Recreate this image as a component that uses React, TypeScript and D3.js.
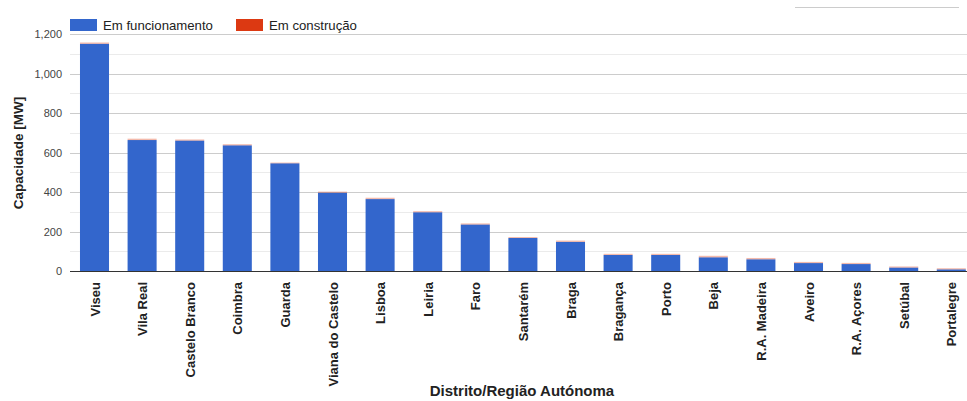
import React, { useEffect } from "react";
import * as d3 from "d3";

const categories = [
  "Viseu", "Vila Real", "Castelo Branco", "Coimbra", "Guarda", "Viana do Castelo",
  "Lisboa", "Leiria", "Faro", "Santarém", "Braga", "Bragança", "Porto", "Beja",
  "R.A. Madeira", "Aveiro", "R.A. Açores", "Setúbal", "Portalegre",
];
const emFuncionamento = [1150, 663, 660, 636, 545, 396, 364, 297, 235, 167, 147, 81, 81, 69, 59, 40, 35, 17, 8];
const emConstrucao = [7, 7, 6, 6, 4, 6, 7, 6, 6, 5, 7, 6, 6, 8, 7, 6, 6, 6, 6];
const yTicks = [0, 200, 400, 600, 800, 1000, 1200];
const yMinorTicks = [100, 300, 500, 700, 900, 1100];
const seriesNames = ["Em funcionamento", "Em construção"];
const colors = ["#3366cc", "#dc3912"];

const W = 967;
const H = 401;
const FONT = "'Liberation Sans', Arial, sans-serif";

export default function App() {
  useEffect(() => {
    document.body.style.margin = "0";
  }, []);

  const x = d3.scaleBand<string>().domain(categories).range([70.7, 975.1]).paddingInner(0.39).paddingOuter(0.195);
  const y = d3.scaleLinear().domain([0, 1200]).range([271, 34]);
  const fmt = d3.format(",");

  return (
    <svg width={W} height={H} style={{ display: "block", fontFamily: FONT }}>
      <rect x={0} y={0} width={W} height={H} fill="#fff" />
      <line x1={795} x2={959} y1={7.5} y2={7.5} stroke="#cccccc" strokeWidth={1} />
      {seriesNames.map((n, i) => {
        const lx = i === 0 ? 70 : 236;
        return (
          <g key={n}>
            <rect x={lx} y={19} width={27} height={12} fill={colors[i]} />
            <text x={lx + 33} y={29.5} fontSize={13.2} fill="#222">{n}</text>
          </g>
        );
      })}
      {yMinorTicks.map((t) => (
        <line key={"m" + t} x1={70} x2={W} y1={Math.round(y(t)) + 0.5} y2={Math.round(y(t)) + 0.5} stroke="#ebebeb" />
      ))}
      {yTicks.filter((t) => t > 0).map((t) => (
        <line key={"g" + t} x1={70} x2={W} y1={Math.round(y(t)) + 0.5} y2={Math.round(y(t)) + 0.5} stroke="#cccccc" />
      ))}
      {yTicks.map((t) => (
        <text key={"t" + t} x={62} y={y(t) + 4} fontSize={11} fill="#444" textAnchor="end">{fmt(t)}</text>
      ))}
      {categories.map((c, i) => {
        const bx = x(c)!;
        const bw = x.bandwidth();
        const f = emFuncionamento[i];
        const k = emConstrucao[i];
        return (
          <g key={c}>
            <rect x={bx} y={y(f)} width={bw} height={y(0) - y(f)} fill={colors[0]} />
            <rect x={bx} y={y(f + k)} width={bw} height={y(f) - y(f + k)} fill={colors[1]} opacity={0.35} />
          </g>
        );
      })}
      <line x1={70} x2={W} y1={271.5} y2={271.5} stroke="#333" strokeWidth={1} />
      {categories.map((c) => {
        const cx = x(c)! + x.bandwidth() / 2 + 5;
        return (
          <text key={"l" + c} transform={`translate(${cx},282) rotate(-90)`} fontSize={13} fontWeight="bold" fill="#222" textAnchor="end">{c}</text>
        );
      })}
      <text transform="translate(23,153) rotate(-90)" fontSize={13.5} fontWeight="bold" fill="#222" textAnchor="middle">Capacidade [MW]</text>
      <text x={522} y={396} fontSize={15} fontWeight="bold" fill="#222" textAnchor="middle">Distrito/Região Autónoma</text>
    </svg>
  );
}
